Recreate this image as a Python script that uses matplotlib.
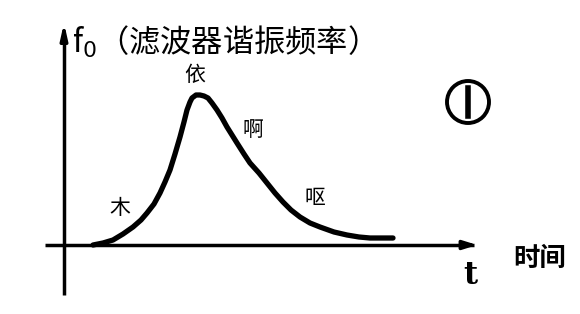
import matplotlib.pyplot as plt
from matplotlib.patches import Circle

plt.rcParams['font.family'] = ['Noto Sans CJK SC', 'DejaVu Sans']

# curve (t, f0), origin at the axis crossing
t = [29, 39, 49, 59, 69, 77, 83, 90, 96, 101, 106, 111, 116, 120, 123, 126,
     128, 132, 136, 140, 144, 148, 153, 158, 163, 168, 173, 180, 186, 195,
     203, 211, 219, 227, 236, 246, 256, 270, 283, 295, 306, 318, 329]
f0 = [0, 2, 5, 11, 18, 25, 32, 41, 52, 63, 75, 91, 108, 123, 135, 143,
      147, 150, 150, 149, 147, 142, 135, 127, 118, 110, 102, 91, 82, 72,
      62, 52, 43, 35, 28, 22, 18, 13, 10, 8, 7, 7, 7]

title = 'f$_0$（滤波器谐振频率）'
sounds = ['木', '依', '啊', '呕']
sound_t = [56, 131, 189, 251]
sound_f = [37, 170, 115, 47]

fig = plt.figure(figsize=(5.8, 3.14), dpi=100)
ax = fig.add_axes([0, 0, 1, 1])
ax.set_xlim(-64, 516)
ax.set_ylim(-69, 245)
ax.axis('off')

# axes
ax.plot([-19, 410], [0, 0], color='black', lw=2.5, solid_capstyle='butt')
ax.annotate('', xy=(416, 0), xytext=(395, 0),
            arrowprops=dict(arrowstyle='-|>,head_length=0.8,head_width=0.25',
                            color='black', lw=2.5))
ax.plot([0, 0], [-50, 205], color='black', lw=2.5, solid_capstyle='butt')
ax.annotate('', xy=(0, 225), xytext=(0, 200),
            arrowprops=dict(arrowstyle='-|>,head_length=0.9,head_width=0.2',
                            color='black', lw=2.5))

ax.plot(t, f0, color='black', lw=3.8, solid_capstyle='round',
        solid_joinstyle='round')

ax.text(8, 203, title, fontsize=22.5, va='center', ha='left')
for s, x, y in zip(sounds, sound_t, sound_f):
    ax.text(x, y, s, fontsize=15, ha='center', va='center')

ax.text(406, -30, 't', fontsize=22, fontweight='bold', ha='center',
        va='center', family='DejaVu Serif')
ax.text(476, -13, '时间', fontsize=19, ha='center', va='center',
        fontweight='bold')

ax.add_patch(Circle((404, 143), 21, fill=False, lw=2.8, color='black'))
ax.plot([404, 404], [129, 157], color='black', lw=4)

fig.savefig('out.png', dpi=100)
